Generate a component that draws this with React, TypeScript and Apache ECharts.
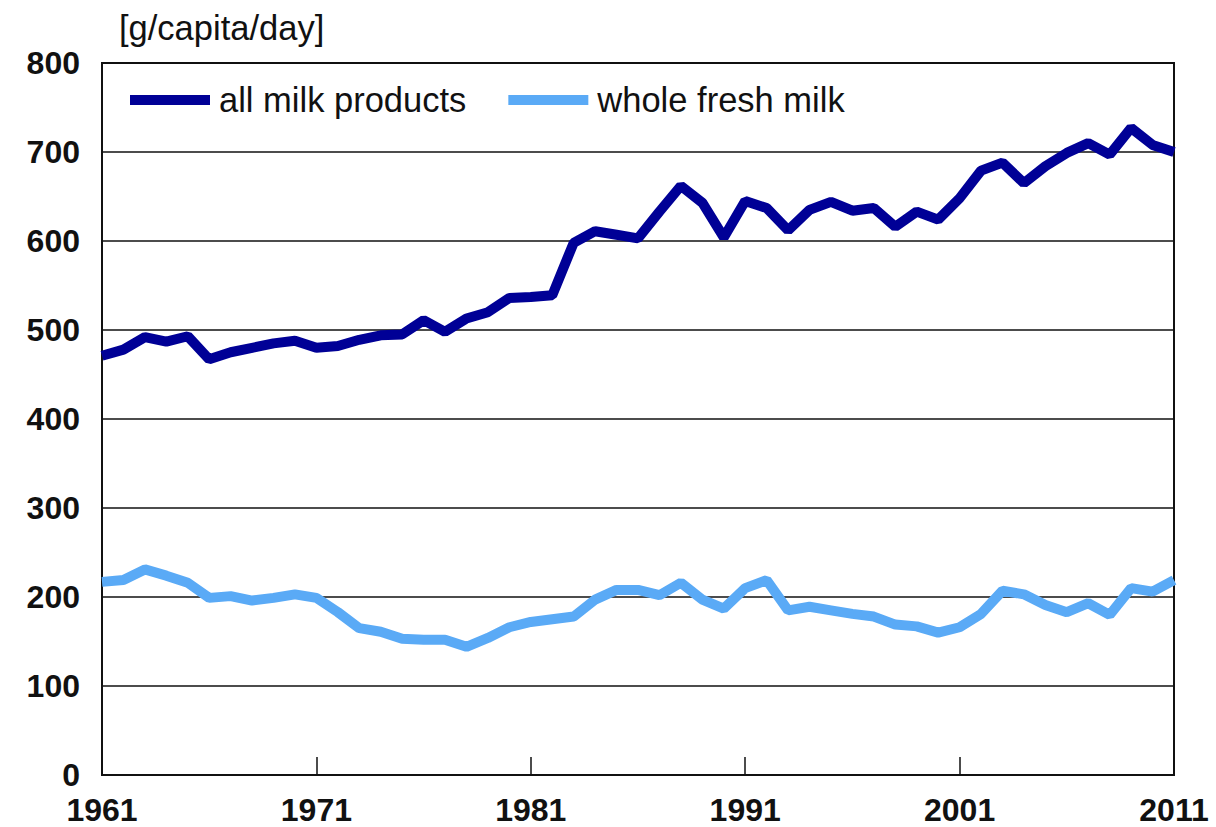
import React, { useEffect, useRef } from "react";
import * as echarts from "echarts";

// Years 1961–2011
const years: string[] = [];
for (let y = 1961; y <= 2011; y++) years.push(String(y));

// Supply in g per capita per day
const allMilkProducts = [
  471, 478, 492, 487, 493, 467, 475, 480, 485, 488,
  480, 482, 489, 494, 495, 511, 498, 513, 520, 536,
  537, 539, 598, 611, 607, 603, 633, 662, 643, 604,
  645, 637, 612, 635, 644, 634, 637, 616, 633, 624,
  648, 679, 688, 665, 684, 699, 710, 697, 727, 708,
  700,
];

const wholeFreshMilk = [
  217, 219, 231, 224, 216, 199, 201, 196, 199, 203,
  199, 183, 165, 161, 153, 152, 152, 144, 154, 166,
  172, 175, 178, 197, 208, 208, 202, 216, 197, 187,
  210, 219, 185, 189, 185, 181, 178, 169, 167, 160,
  166, 181, 207, 203, 191, 183, 193, 180, 210, 206,
  219,
];

const seriesNames = ["all milk products", "whole fresh milk"];
const unitLabel = "[g/capita/day]";

const FONT = "'Liberation Sans', Arial, Helvetica, sans-serif";

export default function App() {
  const ref = useRef<HTMLDivElement>(null);

  useEffect(() => {
    if (!ref.current) return;
    const chart = echarts.init(ref.current, undefined, { renderer: "svg" });
    chart.setOption({
      animation: false,
      backgroundColor: "#ffffff",
      title: {
        text: unitLabel,
        left: 114,
        top: 5,
        textStyle: { fontFamily: FONT, fontSize: 34.5, fontWeight: "normal", color: "#111" },
      },
      legend: {
        left: 125,
        top: 77,
        icon: "rect",
        itemWidth: 80,
        itemHeight: 10,
        itemGap: 42,
        data: seriesNames,
        textStyle: {
          fontFamily: FONT,
          fontSize: 34.5,
          color: "#111",
          lineHeight: 36,
          padding: [0, 0, 0, 4],
        },
      },
      grid: {
        left: 102,
        right: 42,
        top: 63,
        bottom: 52,
        show: true,
        borderColor: "#111",
        borderWidth: 2,
        backgroundColor: "#fff",
      },
      xAxis: {
        type: "category",
        data: years,
        boundaryGap: false,
        axisLine: { show: true, lineStyle: { color: "#111", width: 2 } },
        axisTick: {
          show: true,
          inside: true,
          length: 18,
          interval: 9,
          lineStyle: { color: "#111", width: 1.5 },
        },
        axisLabel: {
          interval: 9,
          margin: 19,
          fontFamily: FONT,
          fontSize: 32,
          fontWeight: "bold",
          color: "#111",
        },
        splitLine: { show: false },
      },
      yAxis: {
        type: "value",
        min: 0,
        max: 800,
        interval: 100,
        axisLine: { show: true, lineStyle: { color: "#111", width: 2 } },
        axisTick: { show: false },
        axisLabel: {
          margin: 22,
          fontFamily: FONT,
          fontSize: 32,
          fontWeight: "bold",
          color: "#111",
        },
        splitLine: { show: true, lineStyle: { color: "#111", width: 1.5 } },
      },
      series: [
        {
          name: seriesNames[0],
          type: "line",
          data: allMilkProducts,
          showSymbol: false,
          symbol: "none",
          lineStyle: { color: "#000096", width: 10 },
          itemStyle: { color: "#000096" },
        },
        {
          name: seriesNames[1],
          type: "line",
          data: wholeFreshMilk,
          showSymbol: false,
          symbol: "none",
          lineStyle: { color: "#5AAAF6", width: 10 },
          itemStyle: { color: "#5AAAF6" },
        },
      ],
    });
    return () => chart.dispose();
  }, []);

  return (
    <div
      ref={ref}
      style={{ position: "absolute", left: 0, top: 0, width: 1216, height: 827 }}
    />
  );
}
